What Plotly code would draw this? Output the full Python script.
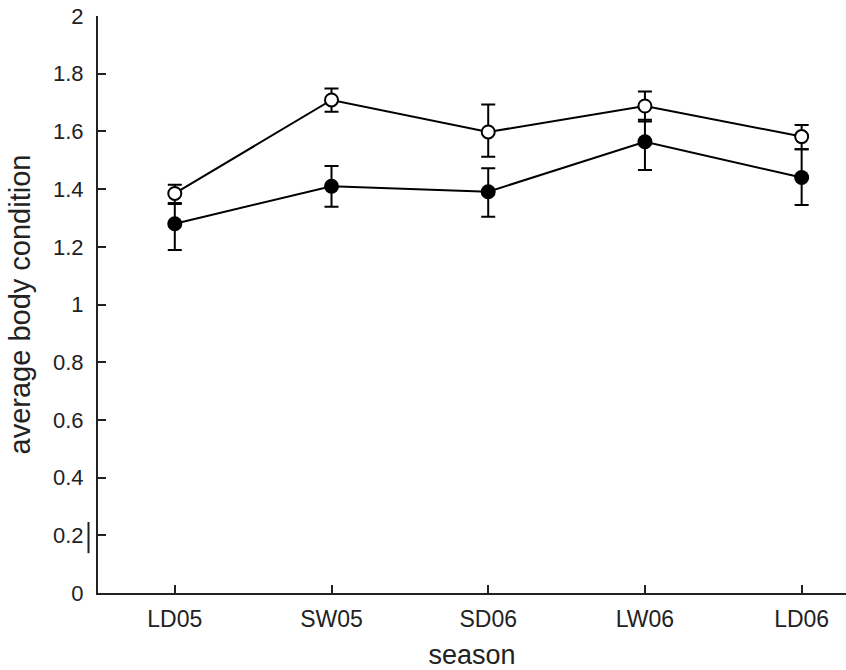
import plotly.graph_objects as go

seasons = ["LD05", "SW05", "SD06", "LW06", "LD06"]

open_mean = [1.385, 1.709, 1.598, 1.688, 1.582]
open_err_up = [0.030, 0.040, 0.095, 0.050, 0.040]
open_err_dn = [0.033, 0.041, 0.086, 0.054, 0.044]

filled_mean = [1.280, 1.410, 1.391, 1.564, 1.440]
filled_err_up = [0.068, 0.070, 0.081, 0.076, 0.098]
filled_err_dn = [0.091, 0.071, 0.087, 0.098, 0.095]

fig = go.Figure()

fig.add_trace(go.Scatter(
    x=seasons, y=filled_mean, mode="lines+markers",
    line=dict(color="black", width=2),
    marker=dict(symbol="circle", size=15, color="black"),
    error_y=dict(type="data", symmetric=False, array=filled_err_up,
                 arrayminus=filled_err_dn, color="black", thickness=2, width=7),
    showlegend=False,
))
fig.add_trace(go.Scatter(
    x=seasons, y=open_mean, mode="lines+markers",
    line=dict(color="black", width=2),
    marker=dict(symbol="circle", size=13, color="white",
                line=dict(color="black", width=2)),
    error_y=dict(type="data", symmetric=False, array=open_err_up,
                 arrayminus=open_err_dn, color="black", thickness=2, width=7),
    showlegend=False,
))

font_family = "Liberation Sans, Arial, sans-serif"

fig.update_layout(
    width=846, height=670,
    margin=dict(l=98, r=0, t=16, b=77),
    paper_bgcolor="white", plot_bgcolor="white",
    font=dict(family=font_family, color="#222222"),
    xaxis=dict(
        range=[-0.49, 4.283], showgrid=False, zeroline=False,
        showline=True, linecolor="#222222", linewidth=2,
        ticks="inside", ticklen=8, tickwidth=2, tickcolor="#222222",
        ticklabelstandoff=4,
        tickfont=dict(size=23, family=font_family),
        title=dict(text="season", font=dict(size=27, family=font_family), standoff=16),
    ),
    yaxis=dict(
        range=[0, 2], dtick=0.2, tick0=0, showgrid=False, zeroline=False,
        showline=True, linecolor="#222222", linewidth=2,
        ticks="inside", ticklen=8, tickwidth=2, tickcolor="#222222",
        ticklabelstandoff=8,
        tickfont=dict(size=22, family=font_family),
        title=dict(text="average body condition", font=dict(size=29, family=font_family), standoff=14),
    ),
    shapes=[dict(type="line", xref="paper", yref="paper",
                 x0=-0.0127, x1=-0.0127, y0=0.069, y1=0.123,
                 line=dict(color="#222222", width=2))],
)

fig.write_html("out.html")
